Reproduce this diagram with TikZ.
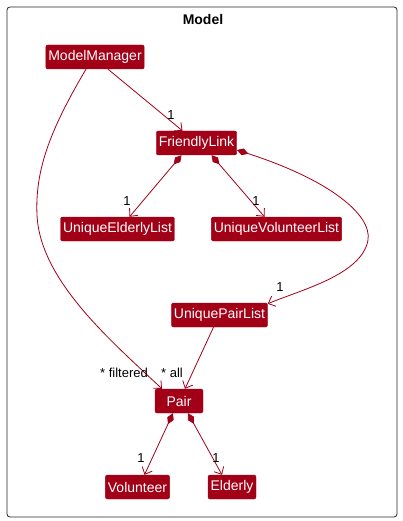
\documentclass[tikz,border=0pt]{standalone}
\usepackage{fontspec}
\setmainfont{Liberation Sans}
\usetikzlibrary{arrows.meta}
\definecolor{umlred}{RGB}{161,0,23}
\tikzset{
	classbox/.style={fill=umlred, draw=umlred, rounded corners=2pt, text=white, font=\fontsize{14}{16}\selectfont, minimum height=24pt, minimum width=48pt, inner xsep=2.5pt, inner ysep=0pt},
	assoc/.style={draw=umlred, line width=0.8pt, -{Straight Barb[length=6pt,width=11pt]}},
	compo/.style={draw=umlred, line width=0.8pt, {Diamond[length=12pt,width=7pt,fill=umlred]}-{Straight Barb[length=6pt,width=11pt]}},
	mult/.style={font=\fontsize{13}{15}\selectfont, text=black, inner sep=0pt}
}

\begin{document}
\begin{tikzpicture}[x=1pt, y=-1pt]
		%%%%% START %%%%%
		
		\useasboundingbox (0, 0) rectangle (402, 521);
		\draw[line width=0.8pt, color=black!85, rounded corners=3pt] (7, 7) rectangle (397, 517);
		\node[font=\fontsize{14}{16}\selectfont\bfseries] (title) at (203, 19) {Model};
		
		\node[classbox] (mm) at (95, 57) {ModelManager};
		\node[classbox] (fl) at (196.5, 143) {FriendlyLink};
		\node[classbox] (uel) at (117.5, 229) {UniqueElderlyList};
		\node[classbox] (uvl) at (276.5, 229) {UniqueVolunteerList};
		\node[classbox] (upl) at (219.5, 315) {UniquePairList};
		\node[classbox] (pair) at (179, 401) {Pair};
		\node[classbox] (vol) at (137.5, 487) {Volunteer};
		\node[classbox] (eld) at (232, 487) {Elderly};
		
		\draw[assoc] ([xshift=13pt]mm.south) -- ([xshift=-14pt]fl.north);
		\draw[assoc] ([xshift=-9pt]mm.south) .. controls (50, 130) and (35, 170) .. (37, 215)
			.. controls (40, 280) and (110, 340) .. ([xshift=-17pt]pair.north);
		
		\draw[compo] ([xshift=-15pt]fl.south) -- ([xshift=12pt]uel.north);
		\draw[compo] ([xshift=15pt]fl.south) -- ([xshift=-12pt]uvl.north);
		\draw[compo] ([yshift=-7pt]fl.east) .. controls (330, 180) and (372, 215) .. (368, 240)
			.. controls (362, 275) and (300, 290) .. ([yshift=-1pt]upl.north east);
		
		\draw[assoc] ([xshift=-6pt]upl.south) -- ([xshift=6pt]pair.north);
		\draw[compo] ([xshift=-6pt]pair.south) -- ([xshift=7pt]vol.north);
		\draw[compo] ([xshift=9pt]pair.south) -- ([xshift=-10pt]eld.north);
		
		\node[mult] (m1) at (171, 115) {1};
		\node[mult] (m2) at (127, 201) {1};
		\node[mult] (m3) at (256, 201) {1};
		\node[mult] (m4) at (280, 287) {1};
		\node[mult] (m5) at (124, 373) {* filtered};
		\node[mult] (m6) at (172, 373) {* all};
		\node[mult] (m7) at (141, 458) {1};
		\node[mult] (m8) at (216, 458) {1};
		
		%%%%% END %%%%%
	\end{tikzpicture}
\end{document}
